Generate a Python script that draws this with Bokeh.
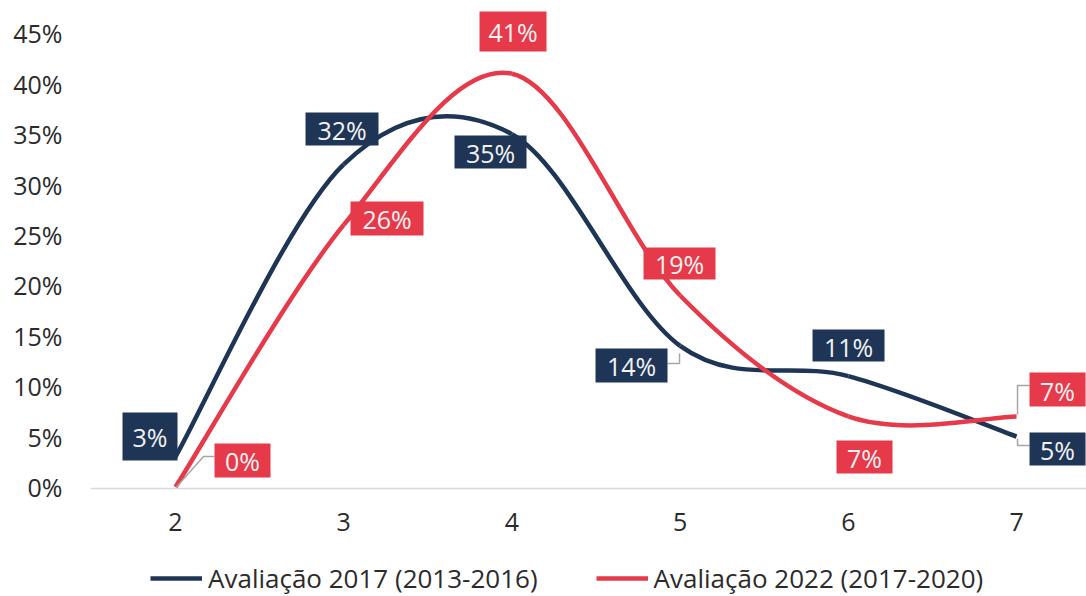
from bokeh.plotting import figure
from bokeh.layouts import column
from bokeh.models import FixedTicker, Legend, LegendItem, ColumnDataSource, Range1d
from bokeh.core.properties import value
from bokeh.embed import file_html
from bokeh.resources import INLINE

# ---- data ----
categories = [2, 3, 4, 5, 6, 7]
serie_2017 = [3, 32, 35, 14, 11, 5]
serie_2022 = [0, 26, 41, 19, 7, 7]
nome_2017 = "Avaliação 2017 (2013-2016)"
nome_2022 = "Avaliação 2022 (2017-2020)"
y_ticks = [0, 5, 10, 15, 20, 25, 30, 35, 40, 45]

# ---- style ----
NAVY = "#1f3556"
RED = "#e63a4a"
FONT = "Open Sans"
W, H = 1086, 541
LEG_H = 55
BL, BB = 90, 53
X0, X1 = 1.4946, 7.416
Y0, Y1 = -0.149, 48.26
PX_X = (W - BL) / (X1 - X0)
PX_Y = (H - BB) / (Y1 - Y0)

p = figure(width=W, height=H, output_backend="svg", toolbar_location=None,
           x_range=Range1d(X0, X1), y_range=Range1d(Y0, Y1),
           min_border_left=BL, min_border_right=0, min_border_top=0,
           min_border_bottom=BB, outline_line_color=None)
p.grid.visible = False

# axes
xa = p.xaxis[0]
xa.ticker = FixedTicker(ticks=categories)
xa.axis_line_color = "#d9d9d9"
xa.axis_line_width = 1.5
xa.major_tick_line_color = None
xa.minor_tick_line_color = None
xa.major_label_standoff = 18
xa.major_label_text_font = FONT
xa.major_label_text_font_size = "25px"
xa.major_label_text_color = "#2b2b2b"

ya = p.yaxis[0]
ya.ticker = FixedTicker(ticks=y_ticks)
ya.major_label_overrides = {t: f"{t}%" for t in y_ticks}
ya.axis_line_color = None
ya.major_tick_line_color = None
ya.minor_tick_line_color = None
ya.major_label_standoff = 22
ya.major_label_text_font = FONT
ya.major_label_text_font_size = "25px"
ya.major_label_text_color = "#2b2b2b"


def smooth_segments(xs, ys):
    n = len(xs)
    d = dict(x0=[], y0=[], x1=[], y1=[], cx0=[], cy0=[], cx1=[], cy1=[])
    for i in range(n - 1):
        pm = i - 1 if i > 0 else i
        pp = i + 2 if i + 2 < n else i + 1
        d["x0"].append(xs[i]); d["y0"].append(ys[i])
        d["x1"].append(xs[i + 1]); d["y1"].append(ys[i + 1])
        d["cx0"].append(xs[i] + (xs[i + 1] - xs[pm]) / 6)
        d["cy0"].append(ys[i] + (ys[i + 1] - ys[pm]) / 6)
        d["cx1"].append(xs[i + 1] - (xs[pp] - xs[i]) / 6)
        d["cy1"].append(ys[i + 1] - (ys[pp] - ys[i]) / 6)
    return ColumnDataSource(d)


p.bezier(x0="x0", y0="y0", x1="x1", y1="y1", cx0="cx0", cy0="cy0",
         cx1="cx1", cy1="cy1", source=smooth_segments(categories, serie_2017),
         line_color=NAVY, line_width=4.5)
p.bezier(x0="x0", y0="y0", x1="x1", y1="y1", cx0="cx0", cy0="cy0",
         cx1="cx1", cy1="cy1", source=smooth_segments(categories, serie_2022),
         line_color=RED, line_width=4.5)

# ---- leader lines (pixel offsets from their data point) ----
leaders = [
    (serie_2022, 0, [(39, 30.5), (28, 30.5), (1, 0)]),
    (serie_2017, 3, [(-12.6, -17.6), (-0.6, -17.6), (-0.6, -7.6)]),
    (serie_2022, 5, [(13, 30.9), (1, 30.9), (1, 2)]),
    (serie_2017, 5, [(13, -8.9), (1, -8.9), (1, -2)]),
]
for serie, i, pts in leaders:
    p.line([categories[i] + dx / PX_X for dx, dy in pts],
           [serie[i] + dy / PX_Y for dx, dy in pts],
           line_color="#a6a6a6", line_width=1.5)

# ---- data labels: (dx, dy, box w, box h) in pixels ----
off_2017 = [(-25.5, 20.3, 55, 48), (-1.7, 35.4, 73, 33), (-21.4, -17.8, 72, 33),
            (-48.6, -19.6, 72, 34), (0.2, 30.6, 72, 32), (41, -12.4, 56, 33)]
off_2022 = [(67, 26.5, 56, 34), (43.3, 6.4, 73, 34), (1.1, 42.2, 67, 40),
            (-0.6, 32, 72, 32), (16.2, -40.6, 56, 33), (41, 26.9, 56, 34)]

for serie, offs, col in [(serie_2017, off_2017, NAVY), (serie_2022, off_2022, RED)]:
    src = ColumnDataSource(dict(
        x=[c + o[0] / PX_X for c, o in zip(categories, offs)],
        y=[v + o[1] / PX_Y for v, o in zip(serie, offs)],
        w=[o[2] for o in offs], h=[o[3] for o in offs],
        t=[f"{v}%" for v in serie]))
    p.rect(x="x", y="y", width="w", height="h", width_units="screen",
           height_units="screen", source=src, fill_color=col, line_color=None)
    p.text(x="x", y="y", text="t", source=src, text_align="center",
           text_baseline="middle", text_font=value(FONT), text_font_size="25px",
           text_color="#f2f2f2", y_offset=1)

# ---- legend strip ----
pl = figure(width=W, height=LEG_H, output_backend="svg", toolbar_location=None,
            x_range=Range1d(-10, -9), y_range=Range1d(-10, -9),
            min_border_left=0, min_border_right=0, min_border_top=0,
            min_border_bottom=0, outline_line_color=None,
            x_axis_location=None, y_axis_location=None)
pl.grid.visible = False
l1 = pl.line(categories, serie_2017, line_color=NAVY, line_width=4.5)
l2 = pl.line(categories, serie_2022, line_color=RED, line_width=4.5)
legend = Legend(items=[LegendItem(label=nome_2017, renderers=[l1]),
                       LegendItem(label=nome_2022, renderers=[l2])],
                orientation="horizontal", location=(60, 0),
                glyph_width=52, glyph_height=24, label_standoff=6, spacing=58,
                padding=0, margin=0, border_line_color=None,
                background_fill_alpha=0, label_text_font=FONT,
                label_text_font_size="26px", label_text_color="#2b2b2b")
pl.add_layout(legend, "center")

layout = column(p, pl, spacing=0)
open("out.html", "w").write(file_html(layout, INLINE))
